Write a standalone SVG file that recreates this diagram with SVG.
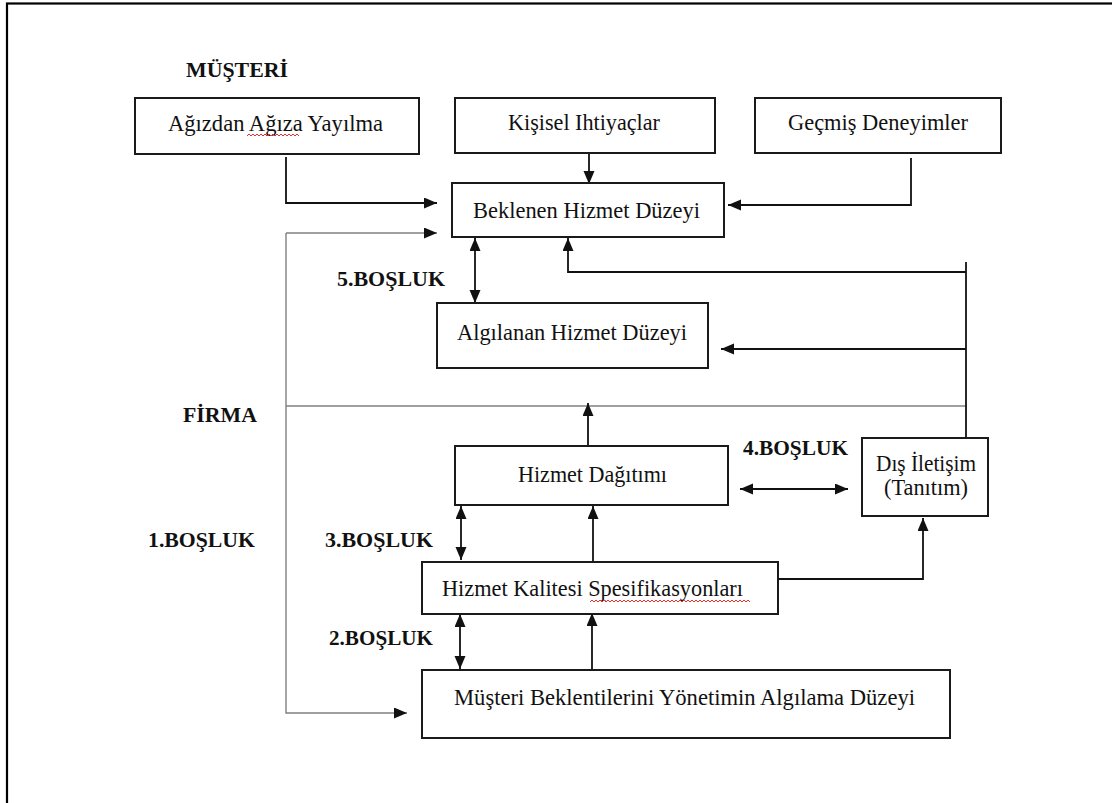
<svg xmlns="http://www.w3.org/2000/svg" width="1112" height="803" viewBox="0 0 1112 803">
  <style>
    .box { fill: #ffffff; stroke: #1a1a1a; stroke-width: 2; }
    .lbl { font-family: "Liberation Serif", "Times New Roman", serif; font-size: 23px; fill: #111; }
    .bold { font-family: "Liberation Serif", "Times New Roman", serif; font-size: 22px; font-weight: bold; fill: #111; }
    .wire { fill: none; stroke: #111; stroke-width: 1.8; }
    .gray { fill: none; stroke: #808080; stroke-width: 1.4; }
    .squiggle { fill: none; stroke: #e03030; stroke-width: 1; }
  </style>
  <defs>
    <marker id="arrow" markerUnits="userSpaceOnUse" markerWidth="14" markerHeight="12" refX="13" refY="5.5" orient="auto-start-reverse">
      <path d="M0,0 L13,5.5 L0,11 Z" fill="#111"/>
    </marker>
  </defs>

  <!-- page -->
  <rect x="0" y="0" width="1112" height="803" fill="#ffffff"/>
  <rect x="7" y="3.5" width="1130" height="820" fill="none" stroke="#000" stroke-width="2.2"/>

  <!-- connectors -->
  <g id="connectors">
    <path class="wire" d="M286,157 V203 H437" marker-end="url(#arrow)"/>
    <path class="wire" d="M589,153 V184" marker-end="url(#arrow)"/>
    <path class="wire" d="M911,158 V205 H728" marker-end="url(#arrow)"/>
    <path class="gray" d="M286,233 H437" marker-end="url(#arrow)"/>
    <path class="gray" d="M286,233 V713 H407" marker-end="url(#arrow)"/>
    <path class="gray" d="M286,406 H966"/>
    <path class="wire" d="M475,238 V303" marker-start="url(#arrow)" marker-end="url(#arrow)"/>
    <path class="wire" d="M966,262 V438"/>
    <path class="wire" d="M966,272 H568 V238" marker-end="url(#arrow)"/>
    <path class="wire" d="M966,349 H721" marker-end="url(#arrow)"/>
    <path class="wire" d="M588,446 V403" marker-end="url(#arrow)"/>
    <path class="wire" d="M740,489 H848" marker-start="url(#arrow)" marker-end="url(#arrow)"/>
    <path class="wire" d="M461,506 V560" marker-start="url(#arrow)" marker-end="url(#arrow)"/>
    <path class="wire" d="M593,562 V506" marker-end="url(#arrow)"/>
    <path class="wire" d="M460,614 V669" marker-start="url(#arrow)" marker-end="url(#arrow)"/>
    <path class="wire" d="M592,670 V613" marker-end="url(#arrow)"/>
    <path class="wire" d="M778,579 H923 V518" marker-end="url(#arrow)"/>
  </g>

  <!-- side labels -->
  <g id="labels">
    <text class="bold" x="186" y="77" textLength="102" lengthAdjust="spacingAndGlyphs">MÜŞTERİ</text>
    <text class="bold" x="183" y="422" textLength="74" lengthAdjust="spacingAndGlyphs">FİRMA</text>
    <text class="bold" x="337" y="286" textLength="108" lengthAdjust="spacingAndGlyphs">5.BOŞLUK</text>
    <text class="bold" x="743" y="455" textLength="105" lengthAdjust="spacingAndGlyphs">4.BOŞLUK</text>
    <text class="bold" x="148" y="547" textLength="107" lengthAdjust="spacingAndGlyphs">1.BOŞLUK</text>
    <text class="bold" x="325" y="547" textLength="108" lengthAdjust="spacingAndGlyphs">3.BOŞLUK</text>
    <text class="bold" x="329" y="645" textLength="104" lengthAdjust="spacingAndGlyphs">2.BOŞLUK</text>
  </g>

  <!-- nodes -->
  <g id="agizdan">
    <rect class="box" x="135" y="98" width="284" height="56"/>
    <text class="lbl" x="168" y="131" textLength="215" lengthAdjust="spacingAndGlyphs">Ağızdan Ağıza Yayılma</text>
    <path class="squiggle" d="M247,136 l2,-2 l2,2 l2,-2 l2,2 l2,-2 l2,2 l2,-2 l2,2 l2,-2 l2,2 l2,-2 l2,2 l2,-2 l2,2 l2,-2 l2,2 l2,-2 l2,2 l2,-2 l2,2 l2,-2 l2,2 l2,-2 l2,2 l2,-2 l2,2"/>
  </g>
  <g id="kisisel">
    <rect class="box" x="455" y="98" width="260" height="55"/>
    <text class="lbl" x="508" y="130" textLength="152" lengthAdjust="spacingAndGlyphs">Kişisel Ihtiyaçlar</text>
  </g>
  <g id="gecmis">
    <rect class="box" x="755" y="98" width="246" height="55"/>
    <text class="lbl" x="788" y="130" textLength="180" lengthAdjust="spacingAndGlyphs">Geçmiş Deneyimler</text>
  </g>
  <g id="beklenen">
    <rect class="box" x="452" y="183" width="272" height="54"/>
    <text class="lbl" x="473" y="218" textLength="227" lengthAdjust="spacingAndGlyphs">Beklenen Hizmet Düzeyi</text>
  </g>
  <g id="algilanan">
    <rect class="box" x="437" y="303" width="271" height="65"/>
    <text class="lbl" x="457" y="340" textLength="230" lengthAdjust="spacingAndGlyphs">Algılanan Hizmet Düzeyi</text>
  </g>
  <g id="dagitim">
    <rect class="box" x="455" y="446" width="273" height="59"/>
    <text class="lbl" x="518" y="482" textLength="149" lengthAdjust="spacingAndGlyphs">Hizmet Dağıtımı</text>
  </g>
  <g id="iletisim">
    <rect class="box" x="862" y="438" width="126" height="78"/>
    <text class="lbl" x="876" y="471" textLength="100" lengthAdjust="spacingAndGlyphs">Dış İletişim</text>
    <text class="lbl" x="884" y="495" textLength="84" lengthAdjust="spacingAndGlyphs">(Tanıtım)</text>
  </g>
  <g id="kalite">
    <rect class="box" x="422" y="562" width="356" height="52"/>
    <text class="lbl" x="442" y="596" textLength="301" lengthAdjust="spacingAndGlyphs">Hizmet Kalitesi Spesifikasyonları</text>
    <path class="squiggle" d="M590,602 l2,-2 l2,2 l2,-2 l2,2 l2,-2 l2,2 l2,-2 l2,2 l2,-2 l2,2 l2,-2 l2,2 l2,-2 l2,2 l2,-2 l2,2 l2,-2 l2,2 l2,-2 l2,2 l2,-2 l2,2 l2,-2 l2,2 l2,-2 l2,2 l2,-2 l2,2 l2,-2 l2,2 l2,-2 l2,2 l2,-2 l2,2 l2,-2 l2,2 l2,-2 l2,2 l2,-2 l2,2 l2,-2 l2,2 l2,-2 l2,2 l2,-2 l2,2 l2,-2 l2,2 l2,-2 l2,2 l2,-2 l2,2 l2,-2 l2,2 l2,-2 l2,2 l2,-2 l2,2 l2,-2 l2,2 l2,-2 l2,2 l2,-2 l2,2 l2,-2 l2,2 l2,-2 l2,2 l2,-2 l2,2 l2,-2 l2,2 l2,-2 l2,2 l2,-2 l2,2 l2,-2 l2,2 l2,-2 l2,2"/>
  </g>
  <g id="yonetim">
    <rect class="box" x="422" y="670" width="528" height="68"/>
    <text class="lbl" x="454" y="705" textLength="461" lengthAdjust="spacingAndGlyphs">Müşteri Beklentilerini Yönetimin Algılama Düzeyi</text>
  </g>
</svg>
